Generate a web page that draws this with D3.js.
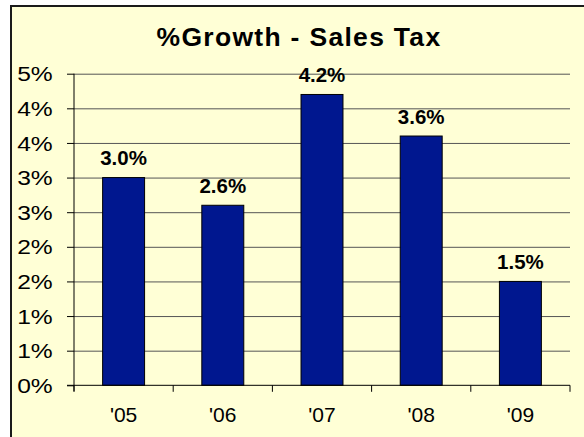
<!DOCTYPE html>
<html><head><meta charset="utf-8">
<script src="https://cdn.jsdelivr.net/npm/d3@7"></script>
<style>body{margin:0;background:#fff;overflow:hidden}</style></head>
<body><svg id="c" width="584" height="437"></svg>
<script>
const title = "%Growth - Sales Tax";
const categories = ["'05", "'06", "'07", "'08", "'09"];
const growth = [3.0, 2.6, 4.2, 3.6, 1.5];
const valueLabels = ["3.0%", "2.6%", "4.2%", "3.6%", "1.5%"];
const yTicks = [0, 0.5, 1, 1.5, 2, 2.5, 3, 3.5, 4, 4.5];
const yTickLabels = ["0%", "1%", "1%", "2%", "2%", "3%", "3%", "4%", "4%", "5%"];

const svg = d3.select("#c");
const font = "'Liberation Sans', Arial, sans-serif";
const L = 74, R = 570, T = 73.7, B = 385.3;

const x = d3.scaleBand().domain(categories).range([L, R]).paddingInner(0.577).paddingOuter(0.2885);
const y = d3.scaleLinear().domain([0, 4.5]).range([B, T]);

// chart area
svg.append("rect").attr("x", 11).attr("y", 6).attr("width", 600).attr("height", 460)
  .attr("fill", "#FFFFD6").attr("stroke", "#1a1a1a").attr("stroke-width", 2);

// title
svg.append("text").attr("x", 299).attr("y", 46).attr("text-anchor", "middle")
  .attr("font-family", font).attr("font-weight", "bold").attr("font-size", 26.5)
  .attr("letter-spacing", 1.3).attr("fill", "#000").text(title);

// gridlines
const grid = svg.append("g").attr("transform", `translate(${L},0)`)
  .call(d3.axisLeft(y).tickValues(yTicks.filter(t => t > 0)).tickSize(-(R - L)).tickFormat(""));
grid.select(".domain").remove();
grid.selectAll("line").attr("stroke", "#555").attr("stroke-width", 1);

// bars
svg.append("g").selectAll("rect").data(categories).join("rect")
  .attr("x", d => x(d)).attr("width", x.bandwidth())
  .attr("y", (d, i) => y(growth[i])).attr("height", (d, i) => y(0) - y(growth[i]))
  .attr("fill", "#00178F").attr("stroke", "#000").attr("stroke-width", 1);

// value labels
svg.append("g").selectAll("text").data(categories).join("text")
  .attr("x", d => x(d) + x.bandwidth() / 2).attr("y", (d, i) => y(growth[i]) - 12.5)
  .attr("text-anchor", "middle").attr("font-family", font).attr("font-weight", "bold")
  .attr("font-size", 20.5).attr("fill", "#000").text((d, i) => valueLabels[i]);

// y axis
const ya = svg.append("g").attr("transform", `translate(${L},0)`)
  .call(d3.axisLeft(y).tickValues(yTicks).tickSize(7).tickFormat((d, i) => yTickLabels[i]));
ya.select(".domain").attr("d", `M0,${T}V${B + 6}`).attr("stroke", "#000");
ya.selectAll("line").attr("stroke", "#000");
ya.selectAll("text").attr("font-family", font).attr("font-size", 20.5).attr("fill", "#000")
  .attr("text-anchor", "end").attr("x", -(L - 52.7) / 1.2).attr("dy", "0.35em")
  .attr("transform", "scale(1.2,1)");

// x axis
const xa = svg.append("g").attr("transform", `translate(0,${B})`)
  .call(d3.axisBottom(x).tickSize(0));
xa.select(".domain").attr("d", `M${L - 7},0H${R}`).attr("stroke", "#000");
xa.selectAll("text").attr("font-family", font).attr("font-size", 21).attr("fill", "#000")
  .attr("y", 36.4).attr("dy", 0);
const bounds = d3.range(categories.length + 1).map(i => x.range()[0] + i * x.step());
xa.selectAll(".bt").data(bounds).join("line").attr("class", "bt")
  .attr("x1", d => d).attr("x2", d => d).attr("y1", 0).attr("y2", 6.5)
  .attr("stroke", "#000").attr("stroke-width", 1);
</script></body></html>
